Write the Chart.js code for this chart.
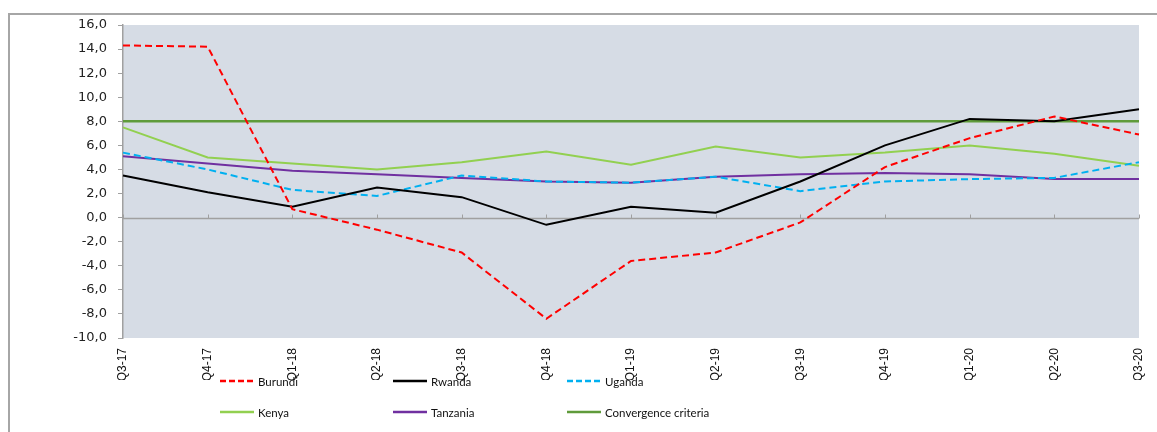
<!DOCTYPE html>
<html>
<head>
<meta charset="utf-8">
<script src="https://cdn.jsdelivr.net/npm/chart.js@4/dist/chart.umd.min.js"></script>
<style>
  html, body { margin: 0; padding: 0; background: #fff; }
  body { width: 1157px; height: 432px; position: relative; overflow: hidden; }
  #frame { position: absolute; left: 8px; top: 13px; width: 1200px; height: 480px;
           border-top: 2px solid #A6A6A6; border-left: 2px solid #A6A6A6; box-sizing: border-box; }
  #wrap { position: absolute; left: 0; top: 0; width: 1157px; height: 380px; }
  #legend { position: absolute; left: 0; top: 0; width: 1157px; height: 432px; pointer-events: none;
            font-family: Lato, "Open Sans", sans-serif; font-size: 11.5px; color: #111; }
  .item { position: absolute; display: flex; align-items: center; height: 14px; }
  .item svg { display: block; margin-right: 4px; }
</style>
</head>
<body>
<div id="frame"></div>
<div id="wrap"><canvas id="c"></canvas></div>
<div id="legend"></div>
<script>
// Quarterly series, per cent
const quarters = ["Q3-17","Q4-17","Q1-18","Q2-18","Q3-18","Q4-18","Q1-19","Q2-19","Q3-19","Q4-19","Q1-20","Q2-20","Q3-20"];
const burundi   = [14.3, 14.2, 0.7, -1.0, -2.9, -8.4, -3.6, -2.9, -0.4, 4.2, 6.6, 8.4, 6.9];
const rwanda    = [3.5, 2.1, 0.9, 2.5, 1.7, -0.6, 0.9, 0.4, 3.0, 6.0, 8.2, 8.0, 9.0];
const uganda    = [5.4, 4.0, 2.3, 1.8, 3.5, 3.0, 2.9, 3.4, 2.2, 3.0, 3.2, 3.3, 4.6];
const kenya     = [7.5, 5.0, 4.5, 4.0, 4.6, 5.5, 4.4, 5.9, 5.0, 5.4, 6.0, 5.3, 4.3];
const tanzania  = [5.1, 4.5, 3.9, 3.6, 3.3, 3.0, 2.9, 3.4, 3.6, 3.7, 3.6, 3.2, 3.2];
const criteria  = [8.0, 8.0, 8.0, 8.0, 8.0, 8.0, 8.0, 8.0, 8.0, 8.0, 8.0, 8.0, 8.0];
const yTicks    = [-10, -8, -6, -4, -2, 0, 2, 4, 6, 8, 10, 12, 14, 16];

const AXIS = "#A0A0A0";

function series(label, data, color, width, dash) {
  return { label, data, borderColor: color, backgroundColor: color, borderWidth: width,
           borderDash: dash || [], pointRadius: 0, pointHoverRadius: 0, tension: 0, fill: false };
}

const datasets = [
  series("Burundi", burundi, "#FF0000", 2, [7, 4]),
  series("Rwanda", rwanda, "#000000", 2),
  series("Uganda", uganda, "#00B0F0", 2, [7, 4]),
  series("Kenya", kenya, "#92D050", 2),
  series("Tanzania", tanzania, "#7030A0", 2),
  series("Convergence criteria", criteria, "#5F9B3B", 2.5)
];

// Plot background and the zero line with its category ticks
const plotDecor = {
  id: "plotDecor",
  beforeDraw(chart) {
    const a = chart.chartArea, ctx = chart.ctx;
    ctx.save();
    ctx.fillStyle = "#D6DCE5";
    ctx.fillRect(a.left, a.top, a.right - a.left, a.bottom - a.top);
    ctx.restore();
  },
  beforeDatasetsDraw(chart) {
    const a = chart.chartArea, ctx = chart.ctx;
    const y0 = Math.round(chart.scales.y.getPixelForValue(0)) + 0.5;
    ctx.save();
    ctx.strokeStyle = AXIS;
    ctx.lineWidth = 1.5;
    ctx.beginPath();
    ctx.moveTo(a.left, y0); ctx.lineTo(a.right, y0);
    ctx.stroke();
    ctx.lineWidth = 1;
    quarters.forEach((q, i) => {
      const x = Math.round(chart.scales.x.getPixelForValue(i)) + 0.5;
      ctx.beginPath();
      ctx.moveTo(x, y0 - 4); ctx.lineTo(x, y0);
      ctx.stroke();
    });
    ctx.restore();
  }
};

const chart = new Chart(document.getElementById("c"), {
  type: "line",
  data: { labels: quarters, datasets },
  plugins: [plotDecor],
  options: {
    responsive: true,
    maintainAspectRatio: false,
    animation: false,
    layout: { padding: { top: 25, right: 18, left: 0, bottom: 0 } },
    plugins: { legend: { display: false }, tooltip: { enabled: false } },
    scales: {
      x: {
        offset: false,
        grid: { display: false },
        border: { display: false },
        ticks: {
          autoSkip: false, maxRotation: 90, minRotation: 90, padding: 2,
          color: "#111",
          font: { family: "'Liberation Sans Narrow', 'Arial Narrow', 'Liberation Sans', sans-serif", size: 12 }
        },
        afterFit(scale) { scale.height = 42; }
      },
      y: {
        min: -10, max: 16,
        afterBuildTicks(scale) { scale.ticks = yTicks.map(v => ({ value: v })); },
        grid: { drawOnChartArea: false, drawTicks: true, tickLength: 5, color: AXIS },
        border: { display: true, color: AXIS, width: 1.5 },
        ticks: {
          padding: 11, color: "#222",
          font: { family: "'DejaVu Sans', Verdana, sans-serif", size: 13 },
          callback: v => v.toFixed(1).replace(".", ",")
        },
        afterFit(scale) { scale.width = 123; }
      }
    }
  }
});

// Legend: three columns, two rows
const legend = document.getElementById("legend");
const colX = [220, 393, 567];
const rowY = [374, 405];
datasets.forEach((ds, i) => {
  const item = document.createElement("div");
  item.className = "item";
  item.style.left = colX[i % 3] + "px";
  item.style.top = rowY[Math.floor(i / 3)] + "px";
  const dash = ds.borderDash.length ? ' stroke-dasharray="6 3"' : "";
  item.innerHTML =
    '<svg width="34" height="4"><line x1="0" y1="2" x2="34" y2="2" stroke="' + ds.borderColor +
    '" stroke-width="2.5"' + dash + '/></svg><span>' + ds.label + '</span>';
  legend.appendChild(item);
});
</script>
</body>
</html>
